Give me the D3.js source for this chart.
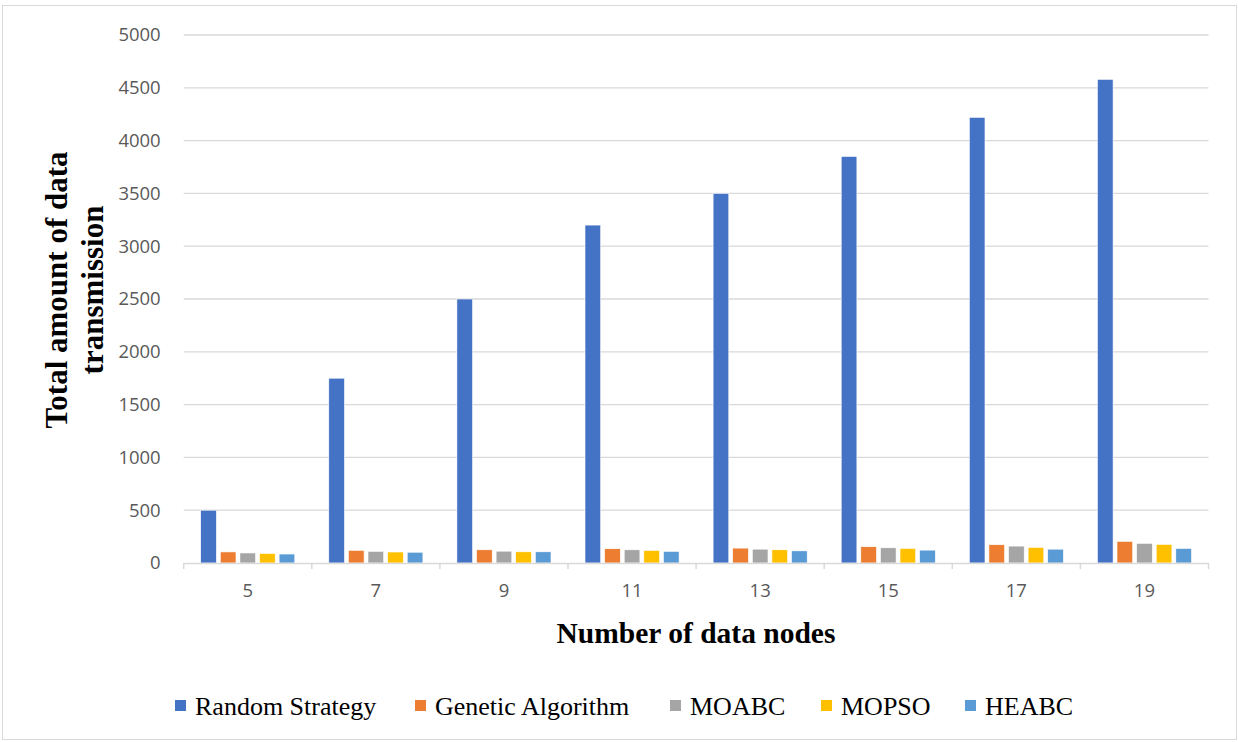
<!DOCTYPE html>
<html><head><meta charset="utf-8">
<script src="https://cdn.jsdelivr.net/npm/d3@7"></script>
<style>body{margin:0;background:#fff}svg{display:block}</style>
</head><body>
<svg id="c" width="1238" height="742"></svg>
<script>
const categories = ["5","7","9","11","13","15","17","19"];
const seriesNames = ["Random Strategy","Genetic Algorithm","MOABC","MOPSO","HEABC"];
const randomStrategy = [500,1750,2500,3200,3500,3850,4220,4580];
const geneticAlgorithm = [105,120,125,135,141,154,173,205];
const moabc = [95,110,112,125,131,144,160,186];
const mopso = [90,104,106,119,125,138,148,176];
const heabc = [85,102,106,110,115,122,131,138];
const yTicks = [0,500,1000,1500,2000,2500,3000,3500,4000,4500,5000];
const colors = ["#4472C4","#ED7D31","#A5A5A5","#FFC000","#5B9BD5"];
const seriesValues = [randomStrategy, geneticAlgorithm, moabc, mopso, heabc];

const svg = d3.select("#c");
svg.append("rect").attr("x",2.5).attr("y",5.5).attr("width",1234).attr("height",734)
  .attr("fill","#fff").attr("stroke","#D9D9D9").attr("stroke-width",1);

const pLeft=183.7, pRight=1208.5, pTop=35, pBottom=563;
const x = d3.scaleBand().domain(categories).range([pLeft,pRight]).padding(0);
const inner = d3.scaleBand().domain(seriesNames).range([17, x.bandwidth()-17]).paddingInner(0.2).paddingOuter(0);
const y = d3.scaleLinear().domain([0,5000]).range([pBottom,pTop]);

// gridlines
svg.append("g").selectAll("line").data(yTicks.filter(d=>d>0)).join("line")
  .attr("x1",pLeft).attr("x2",pRight).attr("y1",d=>y(d)).attr("y2",d=>y(d))
  .attr("stroke","#D9D9D9").attr("stroke-width",1.3);

// y axis labels
const yAxis = d3.axisLeft(y).tickValues(yTicks).tickFormat(d3.format("d")).tickSize(0).tickPadding(23);
const gy = svg.append("g").attr("transform",`translate(${pLeft},0)`).call(yAxis);
gy.select(".domain").remove();
gy.selectAll("text").attr("fill","#595959").attr("font-family","Open Sans, Liberation Sans, sans-serif").attr("font-size",18.5);

// bars
const groups = svg.append("g").selectAll("g").data(categories).join("g")
  .attr("transform",d=>`translate(${x(d)},0)`);
groups.selectAll("rect").data((d,i)=>seriesNames.map((s,j)=>({s,j,v:seriesValues[j][i]}))).join("rect")
  .attr("x",d=>inner(d.s)).attr("width",inner.bandwidth())
  .attr("y",d=>y(d.v)).attr("height",d=>y(0)-y(d.v))
  .attr("fill",d=>colors[d.j]).attr("stroke","#fff").attr("stroke-width",0.6);

// x axis
const xAxis = d3.axisBottom(x).tickSize(0).tickPadding(21);
const gx = svg.append("g").attr("transform",`translate(0,${pBottom})`).call(xAxis);
gx.select(".domain").attr("stroke","#D9D9D9").attr("stroke-width",1.5);
gx.selectAll("text").attr("fill","#595959").attr("font-family","Open Sans, Liberation Sans, sans-serif").attr("font-size",18.5);
const bounds = categories.map(c=>x(c)).concat([pRight]);
svg.append("g").selectAll("line").data(bounds).join("line")
  .attr("x1",d=>d).attr("x2",d=>d).attr("y1",pBottom).attr("y2",pBottom+6)
  .attr("stroke","#D9D9D9").attr("stroke-width",1.5);

// axis titles
svg.append("text").attr("x",696).attr("y",643).attr("text-anchor","middle")
  .attr("font-family","Liberation Serif, Times New Roman, serif").attr("font-weight","bold").attr("font-size",29.5)
  .text("Number of data nodes");
const yt = svg.append("text").attr("transform","translate(67,290) rotate(-90)").attr("text-anchor","middle")
  .attr("font-family","Liberation Serif, Times New Roman, serif").attr("font-weight","bold").attr("font-size",31);
yt.append("tspan").attr("x",0).attr("dy",0).text("Total amount of data");
yt.append("tspan").attr("x",0).attr("dy",36).text("transmission");

// legend
const legX = [175,415,670,821,965];
const leg = svg.append("g").selectAll("g").data(seriesNames).join("g")
  .attr("transform",(d,i)=>`translate(${legX[i]},706)`);
leg.append("rect").attr("x",0).attr("y",-6).attr("width",11).attr("height",11).attr("fill",(d,i)=>colors[i]);
leg.append("text").attr("x",20).attr("y",9).attr("font-family","Liberation Serif, Times New Roman, serif")
  .attr("font-size",26).attr("fill","#000").text(d=>d);
</script>
</body></html>
